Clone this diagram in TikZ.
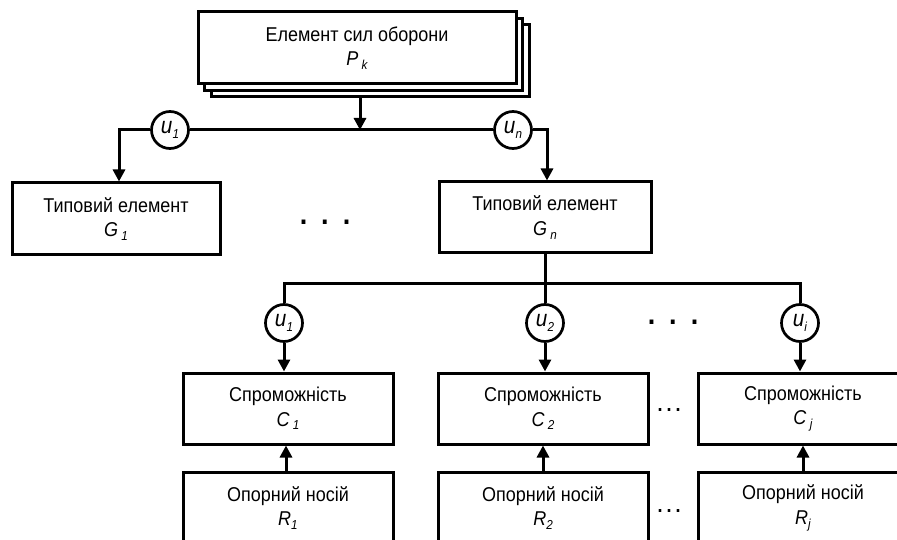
\documentclass[tikz,border=0pt]{standalone}
\usepackage{fontspec}
\setmainfont{Liberation Sans}[FakeStretch=0.9]
\usetikzlibrary{arrows.meta}

% italic lowered index
\newcommand\lowidx[1]{\raisebox{-0.35ex}{\fontsize{13}{13}\selectfont\itshape #1}}

\begin{document}
\begin{tikzpicture}[x=1pt,y=-1pt,
  lbl/.style={font=\fontsize{20}{24.5}\selectfont},
  block/.style={lbl, draw, line width=3pt, fill=white, align=center,
    inner sep=0pt, minimum width=210pt, minimum height=71pt},
  sheet/.style={draw, line width=3pt, fill=white, inner sep=0pt,
    minimum width=318pt, minimum height=72pt},
  ctrl/.style={font=\fontsize{23}{23}\selectfont, draw, circle, line width=2.7pt,
    fill=white, inner sep=0pt, minimum size=37pt},
  link/.style={line width=3pt},
  arr/.style={link, -{Triangle[length=12pt,width=12pt]}},
  bigdots/.style={font=\fontsize{30}{30}\selectfont\bfseries, inner sep=0pt},
  smalldots/.style={font=\fontsize{20}{20}\selectfont\bfseries, inner sep=0pt}]

\useasboundingbox (0,0) rectangle (897,540);
\clip (0,0) rectangle (897,540);

% stacked element of defence forces
\node[sheet] (pb2) at (370,61) {};
\node[sheet] (pb1) at (363.5,54.5) {};
\node[sheet, lbl, align=center] (p) at (357,48)
  {Елемент сил оборони\\\textit{P}\,\lowidx{k}};

% typical elements
\node[block, minimum width=208pt, minimum height=72pt] (g1) at (116,219)
  {Типовий елемент\\\textit{G}\,\lowidx{1}};
\node[block, minimum width=212pt, minimum height=71pt] (gn) at (545,217.5)
  {Типовий елемент\\\textit{G}\,\lowidx{n}};

% capabilities
\node[block] (c1) at (288,408.5) {Спроможність\\\textit{C}\,\lowidx{1}};
\node[block] (c2) at (543,408.5) {Спроможність\\\textit{C}\,\lowidx{2}};
\node[block] (cj) at (803,408.5) {Спроможність\\\textit{C}\,\lowidx{j}};

% reference carriers
\node[block, minimum height=72pt] (r1) at (288,508) {Опорний носій\\\textit{R}\lowidx{1}};
\node[block, minimum height=72pt] (r2) at (543,508) {Опорний носій\\\textit{R}\lowidx{2}};
\node[block, minimum height=72pt] (rj) at (803,508) {Опорний носій\\\textit{R}\lowidx{j}};

% control circles, upper level
\node[ctrl] (cu1) at (170,130) {\textit{u}\lowidx{1}};
\node[ctrl] (cun) at (513,130) {\textit{u}\lowidx{n}};

% control circles, lower level
\node[ctrl] (du1) at (284,323) {\textit{u}\lowidx{1}};
\node[ctrl] (du2) at (545,323) {\textit{u}\lowidx{2}};
\node[ctrl] (dui) at (800,323) {\textit{u}\lowidx{i}};

% upper bus
\coordinate (pj) at (360,130);
\draw[arr] (pj |- pb2.south) -- (pj);
\draw[link] (cu1.east) -- (cun.west);
\draw[arr] (cu1.west) -| ([xshift=3pt]g1.north);
\draw[arr] (cun.east) -| ([xshift=2pt]gn.north);

% lower bus
\coordinate (bus) at (545,283);
\draw[link] (gn.south) -- (bus);
\draw[link] (du1.north) -- (du1.north |- bus) -- (dui.north |- bus) -- (dui.north);
\draw[link] (du2.north) -- (du2.north |- bus);

% control to capability
\draw[arr] (du1.south) -- (du1.south |- c1.north);
\draw[arr] (du2.south) -- (du2.south |- c2.north);
\draw[arr] (dui.south) -- (dui.south |- cj.north);

% carrier to capability
\draw[arr] ([xshift=-2pt]r1.north) -- ([xshift=-2pt]c1.south);
\draw[arr] (r2.north) -- (c2.south);
\draw[arr] (rj.north) -- (cj.south);

% ellipses
\node[bigdots] (e1) at (325,222) {.\hspace{14pt}.\hspace{14pt}.};
\node[bigdots] (e2) at (673,322) {.\hspace{14pt}.\hspace{14pt}.};
\node[smalldots] (e3) at (669,410) {.\hspace{4pt}.\hspace{4pt}.};
\node[smalldots] (e4) at (669,511) {.\hspace{4pt}.\hspace{4pt}.};
\end{tikzpicture}
\end{document}
